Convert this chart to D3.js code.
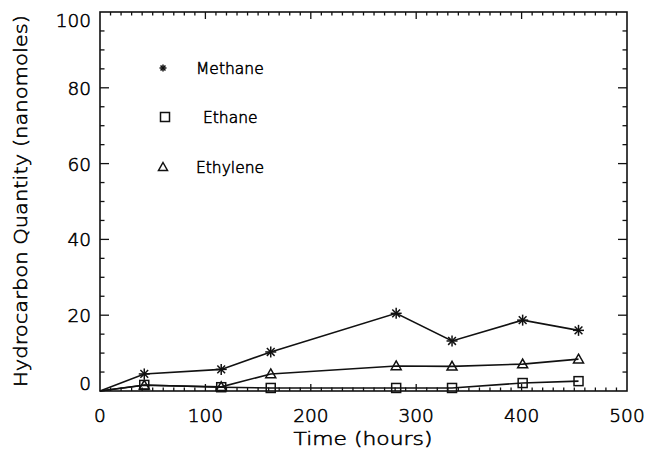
<!DOCTYPE html>
<html><head><meta charset="utf-8">
<script src="https://cdn.jsdelivr.net/npm/d3@7"></script>
<style>
html,body{margin:0;padding:0;background:#fff;}
text{font-family:"DejaVu Sans","Open Sans",sans-serif;fill:#000;font-weight:200;stroke:#000;stroke-width:0.55px;}
</style></head>
<body><svg id="c" width="647" height="455"></svg>
<script>
const hours = [0, 42, 115, 162, 281, 334, 401, 454];
const methane = [0, 4.5, 5.7, 10.3, 20.5, 13.2, 18.7, 16.0];
const ethane = [0, 1.6, 1.0, 0.8, 0.8, 0.8, 2.1, 2.6];
const ethylene = [0, 1.5, 1.1, 4.5, 6.6, 6.5, 7.1, 8.4];
const xTicks = [0, 100, 200, 300, 400, 500];
const yTicks = [0, 20, 40, 60, 80, 100];
const legendNames = ["Methane", "Ethane", "Ethylene"];

const svg = d3.select("#c");
const L = 100, R = 627, T = 12, B = 391;
const x = d3.scaleLinear().domain([0, 500]).range([L, R]);
const y = d3.scaleLinear().domain([0, 100]).range([B, T]);

// frame
svg.append("rect").attr("x", L).attr("y", T).attr("width", R - L).attr("height", B - T)
  .attr("fill", "none").attr("stroke", "#111").attr("stroke-width", 1.6);

// ticks
const g = svg.append("g").attr("stroke", "#111").attr("stroke-width", 1.3);
d3.range(0, 501, 10).forEach(v => {
  const len = v % 100 === 0 ? 7 : 3.5;
  if (v === 0 || v === 500) return;
  g.append("line").attr("x1", x(v)).attr("x2", x(v)).attr("y1", B).attr("y2", B - len);
  g.append("line").attr("x1", x(v)).attr("x2", x(v)).attr("y1", T).attr("y2", T + len);
});
d3.range(0, 101, 5).forEach(v => {
  const len = v % 20 === 0 ? 9 : 4.5;
  if (v === 0 || v === 100) return;
  g.append("line").attr("y1", y(v)).attr("y2", y(v)).attr("x1", L).attr("x2", L + len);
  g.append("line").attr("y1", y(v)).attr("y2", y(v)).attr("x1", R).attr("x2", R - len);
});

// tick labels
svg.append("g").selectAll("text").data(xTicks).join("text")
  .attr("x", d => x(d)).attr("y", 422).attr("text-anchor", "middle")
  .attr("font-size", 18.5).text(d => d);
svg.append("g").selectAll("text").data(yTicks).join("text")
  .attr("x", 91).attr("y", d => y(d) + 7 + (d === 100 ? 8 : d === 0 ? -8 : 0))
  .attr("text-anchor", "end").attr("font-size", 18.5).text(d => d);

// axis titles
svg.append("text").attr("x", 363).attr("y", 445).attr("text-anchor", "middle")
  .attr("font-size", 18.5).attr("textLength", 139).attr("lengthAdjust", "spacingAndGlyphs")
  .text("Time (hours)");
svg.append("text").attr("transform", "translate(27,201) rotate(-90)")
  .attr("text-anchor", "middle").attr("font-size", 18.5)
  .attr("textLength", 372).attr("lengthAdjust", "spacingAndGlyphs")
  .text("Hydrocarbon Quantity (nanomoles)");

// lines
const line = d3.line().x((d, i) => x(hours[i])).y(d => y(d));
[methane, ethane, ethylene].forEach(s => {
  svg.append("path").attr("d", line(s)).attr("fill", "none")
    .attr("stroke", "#111").attr("stroke-width", 1.6);
});

// markers
function asterisk(gg, cx, cy, r) {
  const p = gg.append("g").attr("stroke", "#111").attr("stroke-width", 1.5);
  [0, 45, 90, 135].forEach(a => {
    const rad = a * Math.PI / 180;
    p.append("line").attr("x1", cx - r * Math.cos(rad)).attr("y1", cy - r * Math.sin(rad))
      .attr("x2", cx + r * Math.cos(rad)).attr("y2", cy + r * Math.sin(rad));
  });
}
function square(gg, cx, cy, r) {
  gg.append("rect").attr("x", cx - r).attr("y", cy - r).attr("width", 2 * r).attr("height", 2 * r)
    .attr("fill", "none").attr("stroke", "#111").attr("stroke-width", 1.5);
}
function triangle(gg, cx, cy, r) {
  gg.append("path").attr("d", `M${cx},${cy - r}L${cx + r},${cy + r * 0.75}L${cx - r},${cy + r * 0.75}Z`)
    .attr("fill", "none").attr("stroke", "#111").attr("stroke-width", 1.5);
}
const mk = svg.append("g");
hours.forEach((h, i) => {
  if (i === 0) return;
  asterisk(mk, x(h), y(methane[i]), 5.5);
  square(mk, x(h), y(ethane[i]), 4.5);
  triangle(mk, x(h), y(ethylene[i]), 5);
});

// legend
const lg = svg.append("g");
asterisk(lg, 163, 68, 3.5);
square(lg, 165, 117, 4.5);
triangle(lg, 163, 167, 4.5);
const legX = [196, 203, 196], legY = [74, 123, 173];
legendNames.forEach((n, i) => {
  lg.append("text").attr("x", legX[i]).attr("y", legY[i]).attr("font-size", 15.5).text(n);
});
</script></body></html>
